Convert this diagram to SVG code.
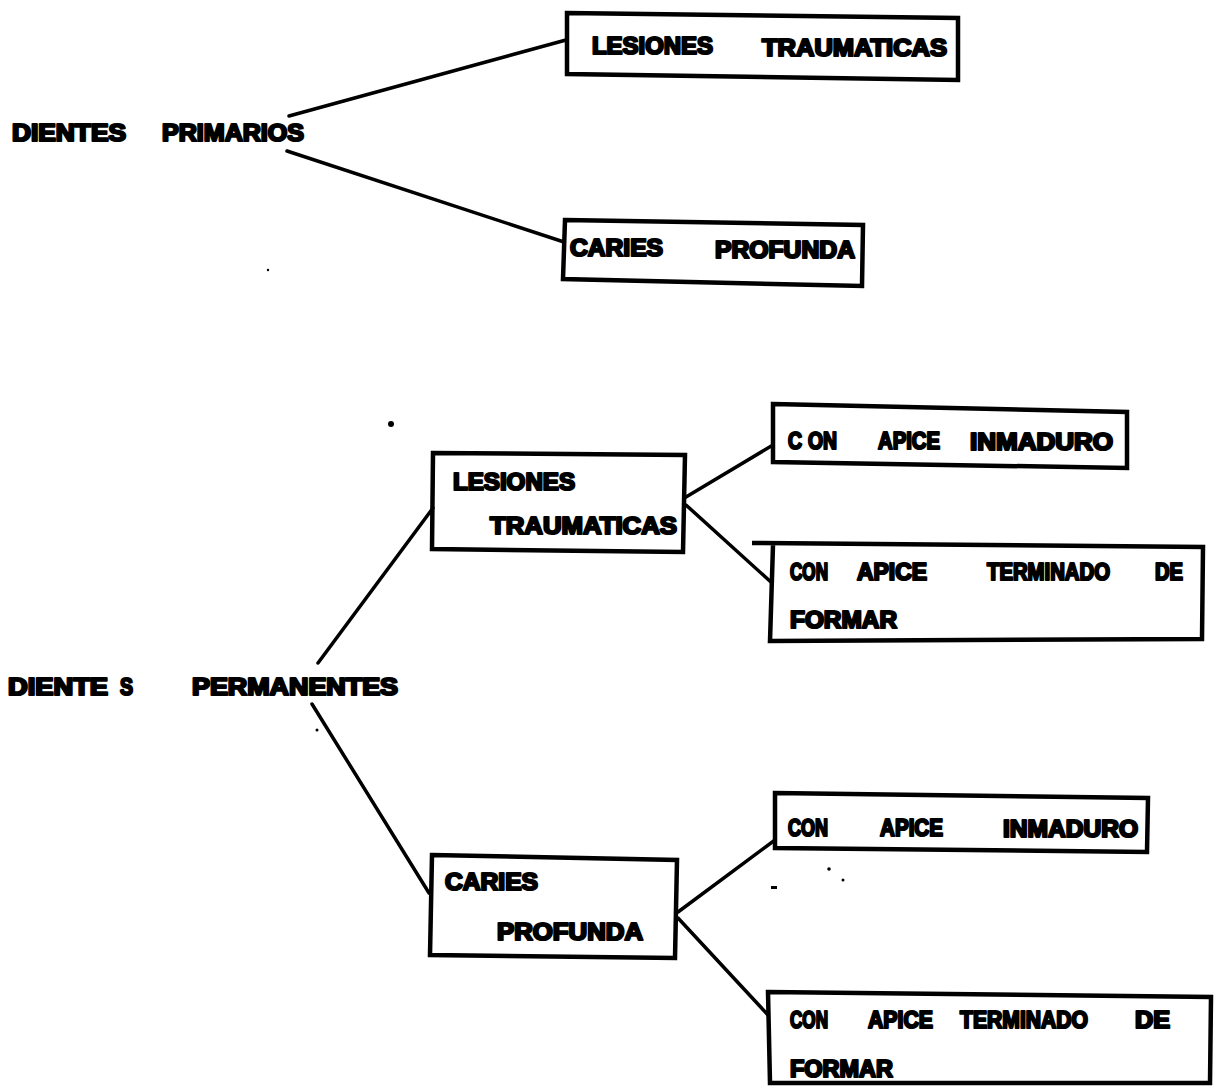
<svg xmlns="http://www.w3.org/2000/svg" width="1215" height="1087" viewBox="0 0 1215 1087">
<style>
.bg{fill:#fff}
.box{fill:none;stroke:#000;stroke-width:4.5;stroke-linejoin:miter}
.con{stroke:#000;stroke-width:3.5;stroke-linecap:round;fill:none}
.t{font-family:"Liberation Sans",Arial,sans-serif;font-weight:bold;font-size:23px;fill:#000;stroke:#000;stroke-width:2.2;stroke-linejoin:round}
.speck{fill:#000}
</style>
<rect class="bg" x="0" y="0" width="1215" height="1087"/>

<g id="connectors">
  <line class="con" x1="289" y1="116" x2="566" y2="40"/>
  <line class="con" x1="287" y1="151" x2="564" y2="242"/>
  <line class="con" x1="318" y1="663" x2="433" y2="508"/>
  <line class="con" x1="312" y1="704" x2="429" y2="893"/>
  <line class="con" x1="686" y1="497" x2="773" y2="445"/>
  <line class="con" x1="686" y1="505" x2="772" y2="583"/>
  <line class="con" x1="678" y1="912" x2="775" y2="840"/>
  <line class="con" x1="678" y1="918" x2="768" y2="1015"/>
</g>

<g id="dientes-primarios">
  <text class="t" x="12" y="141" textLength="114" lengthAdjust="spacingAndGlyphs">DIENTES</text>
  <text class="t" x="162" y="141" textLength="142" lengthAdjust="spacingAndGlyphs">PRIMARIOS</text>
</g>

<g id="primarios-lesiones">
  <polygon class="box" points="567,13 958,18 958,80 567,74"/>
  <text class="t" x="592" y="54" textLength="121" lengthAdjust="spacingAndGlyphs">LESIONES</text>
  <text class="t" x="762" y="56" textLength="185" lengthAdjust="spacingAndGlyphs">TRAUMATICAS</text>
</g>

<g id="primarios-caries">
  <polygon class="box" points="565,220 863,225 862,286 563,279"/>
  <text class="t" x="570" y="256" textLength="93" lengthAdjust="spacingAndGlyphs">CARIES</text>
  <text class="t" x="715" y="258" textLength="140" lengthAdjust="spacingAndGlyphs">PROFUNDA</text>
</g>

<g id="dientes-permanentes">
  <text class="t" x="8" y="695" textLength="100" lengthAdjust="spacingAndGlyphs">DIENTE</text>
  <text class="t" x="120" y="695" textLength="13" lengthAdjust="spacingAndGlyphs">S</text>
  <text class="t" x="192" y="695" textLength="206" lengthAdjust="spacingAndGlyphs">PERMANENTES</text>
</g>

<g id="permanentes-lesiones">
  <polygon class="box" points="433,453 685,455 683,552 432,549"/>
  <text class="t" x="453" y="490" textLength="122" lengthAdjust="spacingAndGlyphs">LESIONES</text>
  <text class="t" x="490" y="534" textLength="187" lengthAdjust="spacingAndGlyphs">TRAUMATICAS</text>
</g>

<g id="lesiones-inmaduro">
  <polygon class="box" points="773,404 1127,412 1127,468 773,462"/>
  <text class="t" x="788" y="449" textLength="14" lengthAdjust="spacingAndGlyphs">C</text>
  <text class="t" x="808" y="449" textLength="29" lengthAdjust="spacingAndGlyphs">ON</text>
  <text class="t" x="878" y="449" textLength="62" lengthAdjust="spacingAndGlyphs">APICE</text>
  <text class="t" x="970" y="450" textLength="143" lengthAdjust="spacingAndGlyphs">INMADURO</text>
</g>

<g id="lesiones-terminado">
  <path class="box" d="M752,543 L1203,547 L1202,639 L770,641 L773,545"/>
  <text class="t" x="790" y="580" textLength="38" lengthAdjust="spacingAndGlyphs">CON</text>
  <text class="t" x="857" y="580" textLength="70" lengthAdjust="spacingAndGlyphs">APICE</text>
  <text class="t" x="987" y="580" textLength="123" lengthAdjust="spacingAndGlyphs">TERMINADO</text>
  <text class="t" x="1155" y="580" textLength="28" lengthAdjust="spacingAndGlyphs">DE</text>
  <text class="t" x="790" y="628" textLength="107" lengthAdjust="spacingAndGlyphs">FORMAR</text>
</g>

<g id="permanentes-caries">
  <polygon class="box" points="432,855 677,860 675,958 430,955"/>
  <text class="t" x="445" y="890" textLength="93" lengthAdjust="spacingAndGlyphs">CARIES</text>
  <text class="t" x="497" y="940" textLength="146" lengthAdjust="spacingAndGlyphs">PROFUNDA</text>
</g>

<g id="caries-inmaduro">
  <polygon class="box" points="775,793 1148,798 1147,852 775,848"/>
  <text class="t" x="788" y="836" textLength="40" lengthAdjust="spacingAndGlyphs">CON</text>
  <text class="t" x="880" y="836" textLength="63" lengthAdjust="spacingAndGlyphs">APICE</text>
  <text class="t" x="1003" y="837" textLength="135" lengthAdjust="spacingAndGlyphs">INMADURO</text>
</g>

<g id="caries-terminado">
  <polygon class="box" points="768,992 1211,997 1210,1083 770,1083"/>
  <text class="t" x="790" y="1028" textLength="38" lengthAdjust="spacingAndGlyphs">CON</text>
  <text class="t" x="868" y="1028" textLength="65" lengthAdjust="spacingAndGlyphs">APICE</text>
  <text class="t" x="960" y="1028" textLength="128" lengthAdjust="spacingAndGlyphs">TERMINADO</text>
  <text class="t" x="1135" y="1028" textLength="35" lengthAdjust="spacingAndGlyphs">DE</text>
  <text class="t" x="790" y="1077" textLength="103" lengthAdjust="spacingAndGlyphs">FORMAR</text>
</g>

<g id="specks">
  <circle class="speck" cx="391" cy="424" r="3"/>
  <circle class="speck" cx="268" cy="270" r="1.2"/>
  <circle class="speck" cx="317" cy="730" r="1.5"/>
  <circle class="speck" cx="829" cy="869" r="1.8"/>
  <circle class="speck" cx="843" cy="880" r="1.5"/>
  <rect class="speck" x="771" y="886" width="6" height="3"/>
</g>
</svg>
